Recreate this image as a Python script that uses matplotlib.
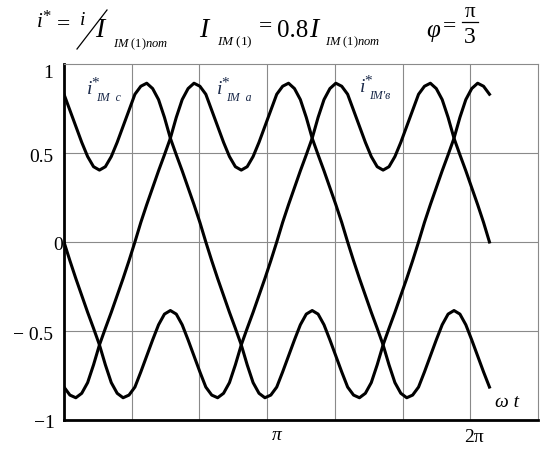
import numpy as np
import matplotlib
matplotlib.use("Agg")
import matplotlib.pyplot as plt
from matplotlib.lines import Line2D

# omega*t in degrees, one period
wt_deg = list(range(0, 365, 5))

# relative phase currents
i_c = [0.83, 0.74, 0.65, 0.56, 0.48, 0.423, 0.404, 0.423, 0.48, 0.56, 0.65, 0.74,
       0.83, 0.875, 0.892, 0.862, 0.80, 0.70, 0.583, 0.49, 0.40, 0.305, 0.21, 0.11,
       0.0, -0.105, -0.205, -0.30, -0.395, -0.485, -0.578, -0.69, -0.79, -0.85, -0.875, -0.86,
       -0.815, -0.73, -0.64, -0.55, -0.465, -0.405, -0.385, -0.405, -0.465, -0.55, -0.64, -0.73,
       -0.815, -0.86, -0.875, -0.85, -0.79, -0.69, -0.578, -0.485, -0.395, -0.30, -0.205, -0.105,
       0.0, 0.11, 0.21, 0.305, 0.40, 0.49, 0.583, 0.70, 0.80, 0.862, 0.892, 0.875,
       0.83]
i_a = [-0.815, -0.86, -0.875, -0.85, -0.79, -0.69, -0.578, -0.485, -0.395, -0.30, -0.205, -0.105,
       0.0, 0.11, 0.21, 0.305, 0.40, 0.49, 0.583, 0.70, 0.80, 0.862, 0.892, 0.875,
       0.83, 0.74, 0.65, 0.56, 0.48, 0.423, 0.404, 0.423, 0.48, 0.56, 0.65, 0.74,
       0.83, 0.875, 0.892, 0.862, 0.80, 0.70, 0.583, 0.49, 0.40, 0.305, 0.21, 0.11,
       0.0, -0.105, -0.205, -0.30, -0.395, -0.485, -0.578, -0.69, -0.79, -0.85, -0.875, -0.86,
       -0.815, -0.73, -0.64, -0.55, -0.465, -0.405, -0.385, -0.405, -0.465, -0.55, -0.64, -0.73,
       -0.815]
i_b = [0.0, -0.105, -0.205, -0.30, -0.395, -0.485, -0.578, -0.69, -0.79, -0.85, -0.875, -0.86,
       -0.815, -0.73, -0.64, -0.55, -0.465, -0.405, -0.385, -0.405, -0.465, -0.55, -0.64, -0.73,
       -0.815, -0.86, -0.875, -0.85, -0.79, -0.69, -0.578, -0.485, -0.395, -0.30, -0.205, -0.105,
       0.0, 0.11, 0.21, 0.305, 0.40, 0.49, 0.583, 0.70, 0.80, 0.862, 0.892, 0.875,
       0.83, 0.74, 0.65, 0.56, 0.48, 0.423, 0.404, 0.423, 0.48, 0.56, 0.65, 0.74,
       0.83, 0.875, 0.892, 0.862, 0.80, 0.70, 0.583, 0.49, 0.40, 0.305, 0.21, 0.11,
       0.0]

y_labels = ["1", "0.5", "0", "\u2212 0.5", "\u22121"]

plt.rcParams["mathtext.fontset"] = "custom"
plt.rcParams["mathtext.rm"] = "Liberation Serif"
plt.rcParams["mathtext.it"] = "Liberation Serif:italic"
plt.rcParams["mathtext.bf"] = "Liberation Serif:bold"

W, H = 550, 453
fig = plt.figure(figsize=(W / 100, H / 100), dpi=100)
ax = fig.add_axes([64 / W, 1 - 420 / H, 474 / W, 356 / H])

wt = np.deg2rad(wt_deg)
for vals in (i_c, i_a, i_b):
    ax.plot(wt, vals, color="black", lw=2.2)

ax.set_xlim(0, 7)
ax.set_ylim(-1, 1)
ax.set_xticks(range(1, 7))
ax.set_yticks([-0.5, 0, 0.5])
ax.grid(True, color="#8a8a8a", lw=0.8)
ax.tick_params(length=0, labelleft=False, labelbottom=False)
for side in ("top", "right"):
    ax.spines[side].set_color("#8a8a8a")
    ax.spines[side].set_linewidth(0.8)
for side in ("left", "bottom"):
    ax.spines[side].set_linewidth(2.0)


def put(x, y, s, size, style="normal", ha="left", color="black"):
    fig.text(x / W, 1 - y / H, s, fontsize=size, fontstyle=style, ha=ha,
             va="baseline", color=color, family="Liberation Serif")


def seg(x0, y0, x1, y1):
    fig.add_artist(Line2D([x0 / W, x1 / W], [1 - y0 / H, 1 - y1 / H],
                          color="black", lw=0.9, transform=fig.transFigure))


# y tick labels
for lab, (xr, yb) in zip(y_labels, [(53, 78), (53, 162), (63, 250), (53, 340), (55, 428)]):
    put(xr, yb, lab, 14, ha="right")

# x labels
put(277, 440, "\u03c0", 14, style="italic", ha="center")
put(474, 442, "2\u03c0", 14, ha="center")
put(495, 407, "\u03c9 t", 14, style="italic")

# curve labels
lab_col = "#1b2a4a"
for (xi, yi, sub) in [(87, 94, "IM  c"), (217, 94, "IM  a"), (360, 92, "IM'\u0432")]:
    put(xi, yi, "i", 14, style="italic", color=lab_col)
    put(xi + 4, yi - 7, "*", 11, color=lab_col)
    put(xi + 9, yi + 7, sub, 8.5, style="italic", color=lab_col)

# title formulas
put(37, 27, "i", 15, style="italic")
put(42, 21, "*", 12)
put(57, 30, "=", 17)
put(80, 25, "i", 14, style="italic")
seg(77, 49, 107, 10)
put(95, 37, "I", 20, style="italic")
put(113, 47, r"$IM\ (1)nom$", 9)

put(199, 37, "I", 20, style="italic")
put(217, 45, r"$IM\ (1)$", 9.5)
put(259, 32, "=", 17)
put(277, 37, "0.8", 18)
put(309, 37, "I", 20, style="italic")
put(325, 45, r"$IM\ (1)nom$", 9)

put(426, 37, "\u03c6", 18, style="italic")
put(443, 32, "=", 17)
put(470, 17, "\u03c0", 15, ha="center")
seg(462, 22, 478, 22)
put(470, 43, "3", 17, ha="center")

fig.savefig("out.png", dpi=100)
